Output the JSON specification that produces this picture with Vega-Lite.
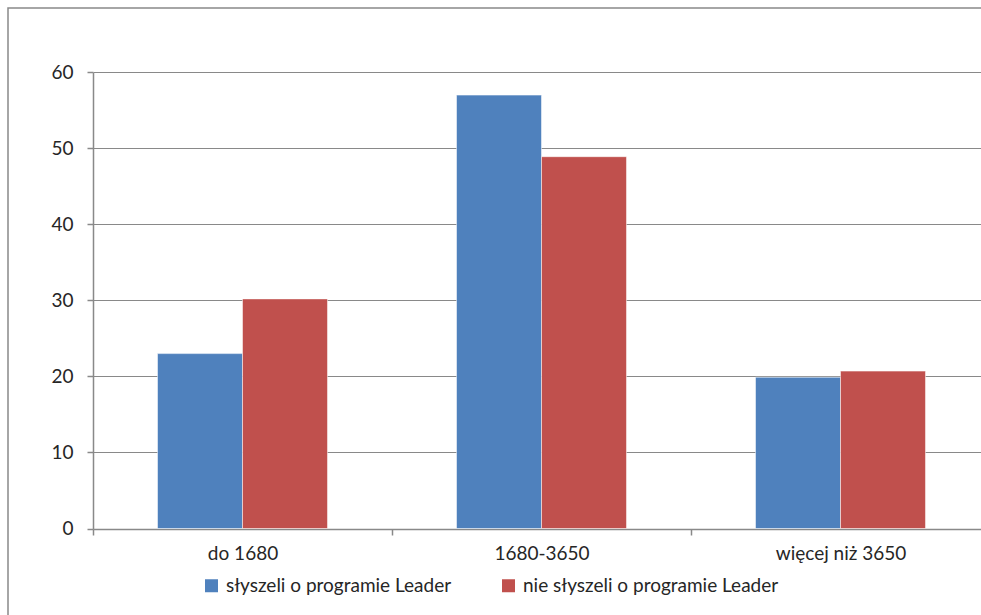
{
  "$schema": "https://vega.github.io/schema/vega-lite/v6.json",
  "autosize": {"type": "none"},
  "padding": {"left": 8, "top": 8, "right": 0, "bottom": 0},
  "width": 973,
  "height": 607,
  "background": "#ffffff",
  "config": {
    "view": {"stroke": "#898989", "strokeWidth": 1.5, "strokeDash": [973, 1580, 607]},
    "font": "Lato",
    "axis": {"labelFont": "Lato", "labelFontSize": 19, "labelColor": "#262626", "domainColor": "#898989", "tickColor": "#898989", "gridColor": "#898989", "domainWidth": 1.5, "tickWidth": 1.5, "gridWidth": 1.2}
  },
  "data": {"values": [
    {"cat": "do 1680", "grp": "słyszeli o programie Leader", "v": 23.0},
    {"cat": "do 1680", "grp": "nie słyszeli o programie Leader", "v": 30.2},
    {"cat": "1680-3650", "grp": "słyszeli o programie Leader", "v": 57.0},
    {"cat": "1680-3650", "grp": "nie słyszeli o programie Leader", "v": 48.9},
    {"cat": "więcej niż 3650", "grp": "słyszeli o programie Leader", "v": 19.9},
    {"cat": "więcej niż 3650", "grp": "nie słyszeli o programie Leader", "v": 20.7}
  ]},
  "mark": {"type": "bar", "stroke": "#ffffff", "strokeOpacity": 0.5, "strokeWidth": 1},
  "encoding": {
    "x": {"field": "cat", "type": "nominal", "sort": ["do 1680", "1680-3650", "więcej niż 3650"],
      "scale": {"range": [85, 982], "paddingInner": 0, "paddingOuter": 0},
      "axis": {"title": null, "labelAngle": 0, "offset": -86, "tickBand": "extent", "tickSize": 6, "labelPadding": 9, "grid": false}},
    "xOffset": {"field": "grp", "type": "nominal", "sort": ["słyszeli o programie Leader", "nie słyszeli o programie Leader"],
      "scale": {"paddingOuter": 0.759, "paddingInner": 0}},
    "y": {"field": "v", "type": "quantitative",
      "scale": {"domain": [0, 60], "range": [520.5, 64.3], "nice": false},
      "axis": {"title": null, "values": [0, 10, 20, 30, 40, 50, 60], "offset": -85, "tickSize": 6, "labelPadding": 14, "grid": true}},
    "color": {"field": "grp", "type": "nominal",
      "scale": {"domain": ["słyszeli o programie Leader", "nie słyszeli o programie Leader"], "range": ["#4f81bd", "#c0504d"]},
      "legend": {"title": null, "orient": "none", "direction": "horizontal", "legendX": 194, "legendY": 568, "symbolType": "square", "symbolSize": 169, "symbolStrokeWidth": 0, "labelFont": "Lato", "labelFontSize": 19, "labelColor": "#262626", "labelOffset": 5, "labelLimit": 0, "columnPadding": 47, "padding": 0}}
  }
}
